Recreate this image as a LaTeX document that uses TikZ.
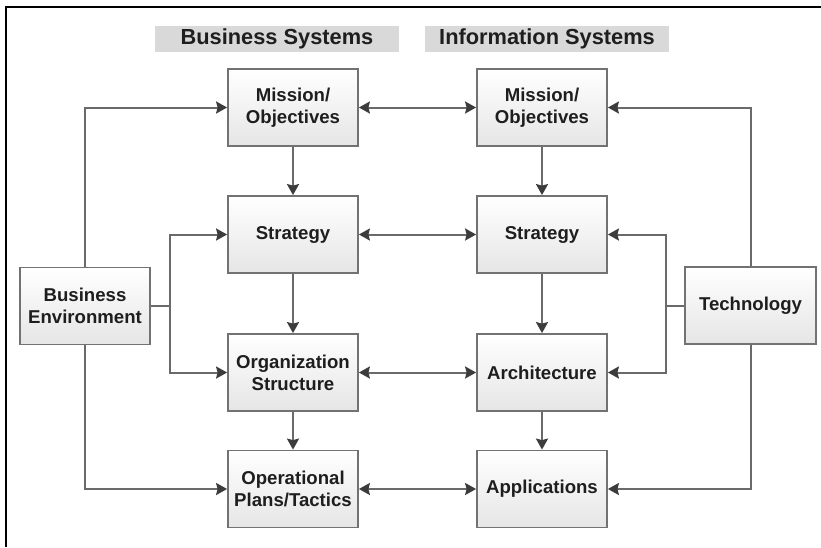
\documentclass[tikz,border=0pt]{standalone}
\usepackage{fontspec}
\setmainfont{Liberation Sans}
\usetikzlibrary{arrows.meta}
\definecolor{linegray}{HTML}{6A6A6A}
\definecolor{tipgray}{HTML}{3C3C3C}
\definecolor{boxborder}{HTML}{727272}
\definecolor{headfill}{HTML}{D9D9D9}
\definecolor{txt}{HTML}{1E1E1E}
\tikzset{
  box/.style={draw=boxborder, line width=1.8pt, top color=white, bottom color=black!10,
    minimum width=130pt, minimum height=77pt, align=center, text=txt,
    font=\fontsize{18.6}{22}\selectfont\bfseries, inner sep=2pt},
  head/.style={fill=headfill, minimum width=244pt, minimum height=26pt, inner sep=0pt,
    text=txt, font=\fontsize{21.8}{26}\selectfont\bfseries},
  conn/.style={draw=linegray, line width=2pt},
  tip/.style={},
  arr/.style={conn, -{Stealth[length=11pt,width=12pt,inset=1.5pt,color=tipgray]}},
  darr/.style={conn, {Stealth[length=11pt,width=12pt,inset=1.5pt,color=tipgray]}-{Stealth[length=11pt,width=12pt,inset=1.5pt,color=tipgray]}}
}
\begin{document}
\begin{tikzpicture}[x=1pt,y=-1pt]
\useasboundingbox (0,0) rectangle (821,547);
\fill[white] (0,0) rectangle (821,547);
\draw[black, line width=2pt] (6,547) -- (6,7) -- (821,7);

\node[head] (hb) at (277,39) {Business Systems};
\node[head] (hi) at (547,39) {Information Systems};

\node[box] (ml) at (293,107.5) {Mission/\\Objectives};
\node[box] (sl) at (293,234.5) {Strategy};
\node[box] (ol) at (293,372.5) {Organization\\Structure};
\node[box] (pl) at (293,489) {Operational\\Plans/Tactics};

\node[box] (mr) at (542,107.5) {Mission/\\Objectives};
\node[box] (sr) at (542,234.5) {Strategy};
\node[box] (ar) at (542,372.5) {Architecture};
\node[box] (ap) at (542,489) {Applications};

\node[box] (be) at (85,306) {Business\\Environment};
\node[box, minimum width=131pt] (te) at (750.5,305.5) {Technology};

\coordinate (bj) at (170,306);
\coordinate (tj) at (666,305.5);

% vertical flows
\draw[arr] (ml) -- (sl);
\draw[arr] (sl) -- (ol);
\draw[arr] (ol) -- (pl);
\draw[arr] (mr) -- (sr);
\draw[arr] (sr) -- (ar);
\draw[arr] (ar) -- (ap);

% horizontal two-way
\draw[darr] (ml) -- (mr);
\draw[darr] (sl) -- (sr);
\draw[darr] (ol) -- (ar);
\draw[darr] (pl) -- (ap);

% business environment
\draw[arr] (be.north) |- (ml.west);
\draw[arr] (be.south) |- (pl.west);
\draw[conn] (be.east) -- (bj);
\draw[arr] (bj) |- (sl.west);
\draw[arr] (bj) |- (ol.west);

% technology
\draw[arr] (te.north) |- (mr.east);
\draw[arr] (te.south) |- (ap.east);
\draw[conn] (te.west) -- (tj);
\draw[arr] (tj) |- (sr.east);
\draw[arr] (tj) |- (ar.east);
\end{tikzpicture}
\end{document}
